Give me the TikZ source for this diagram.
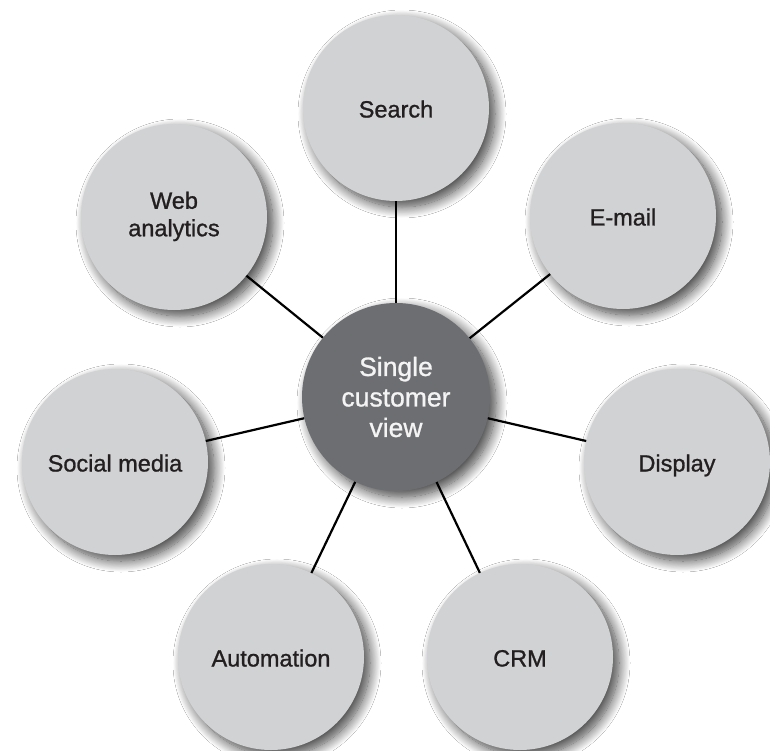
\documentclass[tikz,border=0pt]{standalone}
\usepackage{fontspec}
\setmainfont{Liberation Sans}
\font\outerfnt="Liberation Sans:embolden=1.0" at 23.5pt
\font\centerfnt="Liberation Sans:embolden=1.0" at 26.5pt
\usetikzlibrary{shadows.blur}
\definecolor{outerfill}{HTML}{D1D2D4}
\definecolor{centerfill}{HTML}{6D6E71}
\definecolor{labeltext}{HTML}{231F20}
\definecolor{centertext}{HTML}{F4F4F4}
\begin{document}
\begin{tikzpicture}[x=1pt,y=-1pt,
  softshadow/.style={blur shadow={shadow xshift=6pt, shadow yshift=-6pt, shadow blur radius=11pt, shadow blur steps=16, shadow opacity=75}},
  outercircle/.style={circle, fill=outerfill, minimum size=186pt, inner sep=0pt, align=center,
    text=labeltext, font=\fontsize{23.5}{27.5}\selectfont\outerfnt, softshadow,
    execute at begin node={\rule[-6pt]{0pt}{31pt}}},
  twoline/.style={execute at begin node={\rule{0pt}{26pt}}},
  centercircle/.style={circle, fill=centerfill, minimum size=188pt, inner sep=0pt, align=center,
    text=centertext, font=\fontsize{26.5}{30.5}\selectfont\centerfnt, softshadow,
    execute at begin node={\rule{0pt}{28pt}}},
  connector/.style={draw=black, line width=2.2pt}]
\useasboundingbox[fill=white] (0,0) rectangle (770,751);
\node[centercircle] (hub) at (396,397) {Single\\customer\\view};
\node[outercircle] (search) at (396,108) {Search};
\node[outercircle] (email) at (623,216) {E-mail};
\node[outercircle] (display) at (677,462) {Display};
\node[outercircle] (crm) at (520,657) {CRM};
\node[outercircle] (auto) at (271,657) {Automation};
\node[outercircle] (social) at (115,462) {Social media};
\node[outercircle, twoline] (web) at (174,217) {Web\\analytics};
\draw[connector] (hub) -- (search);
\draw[connector] (hub) -- (email);
\draw[connector] (hub) -- (display);
\draw[connector] (hub) -- (crm);
\draw[connector] (hub) -- (auto);
\draw[connector] (hub) -- (social);
\draw[connector] (hub) -- (web);
\end{tikzpicture}
\end{document}
